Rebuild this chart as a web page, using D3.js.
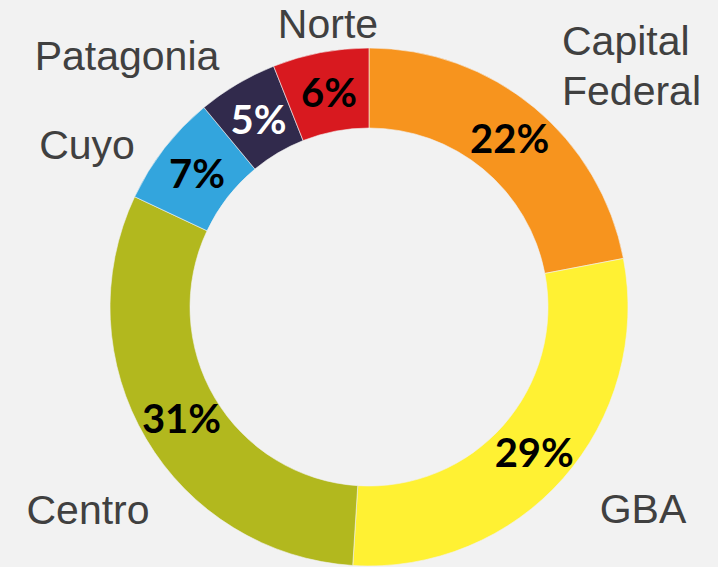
<!DOCTYPE html>
<meta charset="utf-8">
<style>
  body { margin: 0; background: #f2f2f2; }
</style>
<svg width="718" height="567"></svg>
<script src="https://d3js.org/d3.v7.js"></script>
<script>

// data
var regions = ["Capital Federal", "GBA", "Centro", "Cuyo", "Patagonia", "Norte"]
var shares = [22, 29, 31, 7, 5, 6]
var colors = ["#F7941E", "#FFF133", "#B2B81E", "#33A5DD", "#312A4C", "#D8191F"]
var pctColors = ["#000", "#000", "#000", "#000", "#fff", "#000"]

// where the region names sit (lines split for multi-line names)
var nameLines = [["Capital", "Federal"], ["GBA"], ["Centro"], ["Cuyo"], ["Patagonia"], ["Norte"]]
var namePos = [[562, 55, "start"], [643, 523, "middle"], [88, 524, "middle"], [87, 159, "middle"], [127, 70, "middle"], [328, 38, "middle"]]

var svg = d3.select("svg")
var cx = 369, cy = 307, outer = 259, inner = 179

svg.append("rect").attr("width", 718).attr("height", 567).attr("fill", "#f2f2f2")

var data = regions.map(function (r, i) { return { name: r, value: shares[i], i: i } })

var pie = d3.pie().sort(null).value(function (d) { return d.value })
var arc = d3.arc().innerRadius(inner).outerRadius(outer)

var g = svg.append("g").attr("transform", "translate(" + cx + "," + cy + ")")

var arcs = pie(data)

g.selectAll("path")
  .data(arcs)
  .enter()
  .append("path")
  .attr("d", arc)
  .attr("fill", function (d) { return colors[d.data.i] })
  .attr("stroke", "#f2f2f2")
  .attr("stroke-width", 0.6)

// percent labels on the ring
g.selectAll(".pct")
  .data(arcs)
  .enter()
  .append("text")
  .attr("class", "pct")
  .attr("x", function (d) { return arc.centroid(d)[0] + 1 })
  .attr("y", function (d) { return arc.centroid(d)[1] + 15 })
  .attr("text-anchor", "middle")
  .style("font-family", "Lato")
  .style("font-weight", "bold")
  .style("font-size", "40px")
  .attr("fill", function (d) { return pctColors[d.data.i] })
  .text(function (d) { return d.data.value + "%" })

// region names
regions.forEach(function (r, i) {
  var p = namePos[i]
  var t = svg.append("text")
    .attr("x", p[0])
    .attr("y", p[1])
    .attr("text-anchor", p[2])
    .style("font-family", "'Liberation Sans', Arial, sans-serif")
    .style("font-size", "41px")
    .attr("fill", "#404040")
  nameLines[i].forEach(function (line, k) {
    t.append("tspan").attr("x", p[0]).attr("dy", k == 0 ? 0 : 50).text(line)
  })
})

</script>
